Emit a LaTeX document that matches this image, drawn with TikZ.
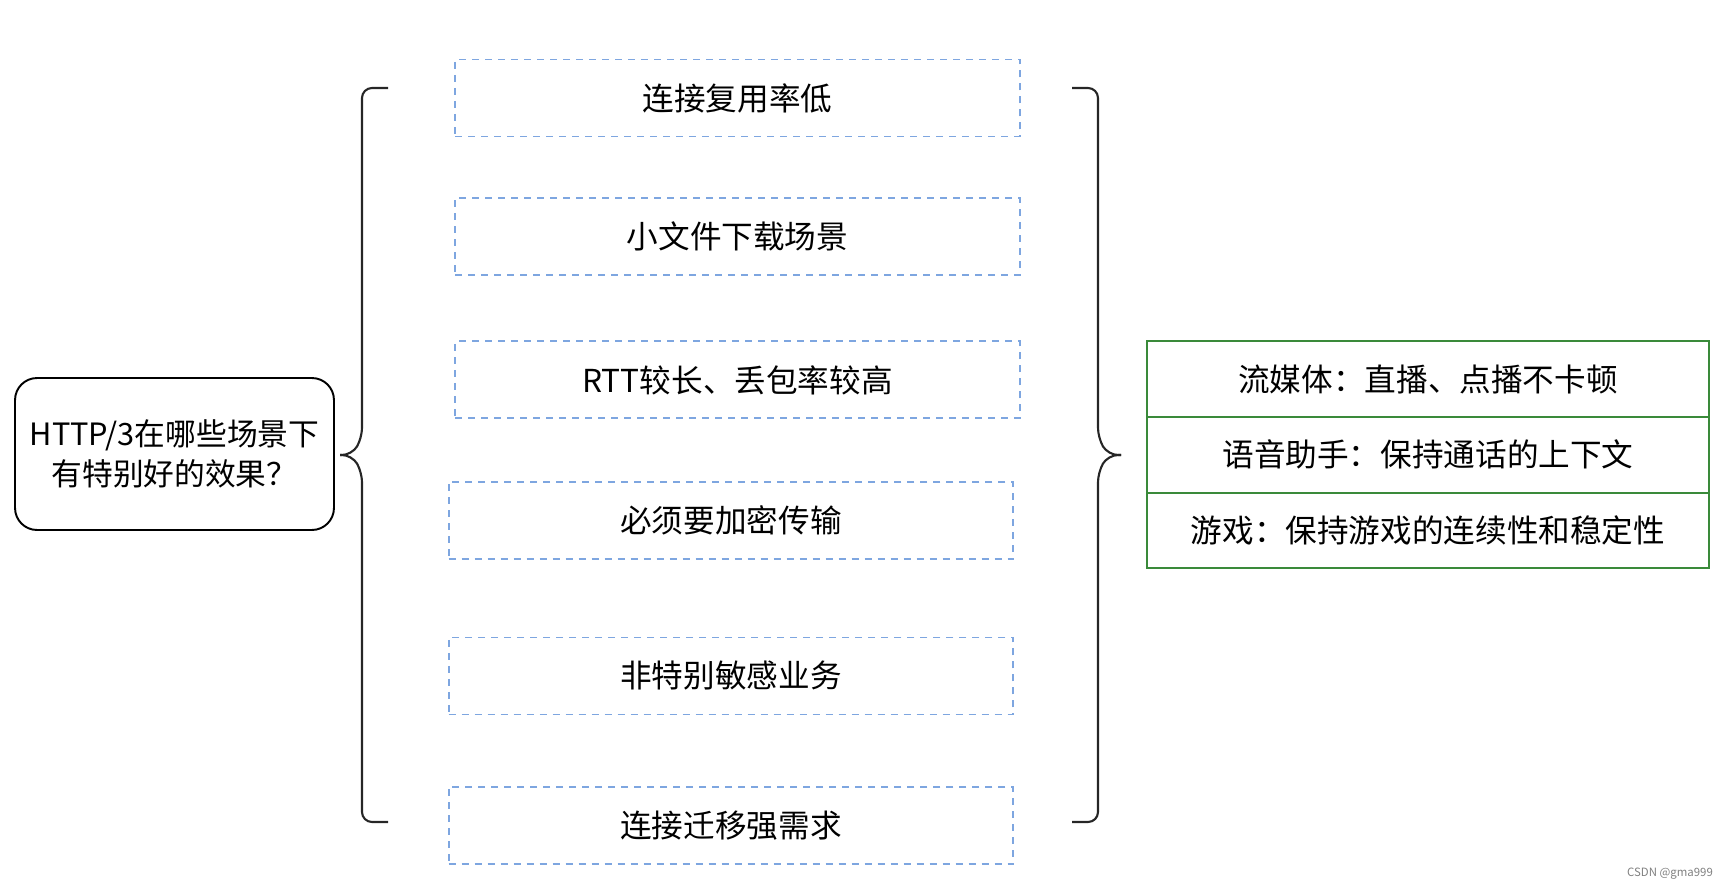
\documentclass[tikz,border=0pt]{standalone}
\usepackage{fontspec}
\usepackage{tikz}
\usetikzlibrary{positioning}
\newfontfamily\cjk{Noto Sans CJK SC}
\definecolor{dashblue}{HTML}{7EA6E0}
\definecolor{rowgreen}{HTML}{3A8A3A}

\begin{document}
\begin{tikzpicture}[x=0.02cm,y=-0.02cm,on grid,node distance=1.514cm,
  font=\cjk\fontsize{18}{22}\selectfont,
  case/.style={draw=dashblue,line width=1.1pt,dash pattern=on 4pt off 3.4pt,
    minimum width=11.3cm,minimum height=1.54cm},
  row/.style={draw=rowgreen,line width=1.1pt,minimum width=11.24cm,minimum height=1.514cm},
  ask/.style={draw,rounded corners=0.44cm,line width=1.1pt,minimum width=6.38cm,
    minimum height=3.04cm,align=center,font=\cjk\fontsize{17.5}{22.5}\selectfont},
  bracket/.style={draw=black!85,line width=1.2pt,rounded corners=0.2cm}]
   \useasboundingbox (0,0) rectangle (1726,889);
   \node[ask] (Q) at (174.5,454) {HTTP/3在哪些场景下\\有特别好的效果？};
   % scenarios
   \node[case] (c1) at (737.5,98) {连接复用率低};
   \node[case] (c2) [below=2.77cm of c1] {小文件下载场景};
   \node[case] (c3) [below=2.87cm of c2] {RTT较长、丢包率较高};
   \node[case] (c4) at (731,520.5) {必须要加密传输};
   \node[case] (c5) [below=3.11cm of c4] {非特别敏感业务};
   \node[case] (c6) [below=2.99cm of c5] {连接迁移强需求};
   % examples
   \node[row] (r1) at (1428,379) {流媒体：直播、点播不卡顿};
   \node[row] (r2) [below=of r1] {语音助手：保持通话的上下文};
   \node[row] (r3) [below=of r2] {游戏：保持游戏的连续性和稳定性};
   \node[text=gray,font=\cjk\fontsize{6.5}{8}\selectfont] (mark) at (1670,874) {CSDN @gma999};
   % braces
   \coordinate (lt) at (388,88);
   \coordinate (lb) at (388,822);
   \coordinate (rt) at (1072,88);
   \coordinate (rb) at (1072,822);
   \draw[bracket] (lt) -- ++(-26,0) -- ++(0,350) -- ++(-10,17) -- ++(-12,0);
   \draw[bracket] (lb) -- ++(-26,0) -- ++(0,-350) -- ++(-10,-17) -- ++(-12,0);
   \draw[bracket] (rt) -- ++(26,0) -- ++(0,350) -- ++(10,17) -- ++(13,0);
   \draw[bracket] (rb) -- ++(26,0) -- ++(0,-350) -- ++(10,-17) -- ++(13,0);
\end{tikzpicture}
\end{document}
